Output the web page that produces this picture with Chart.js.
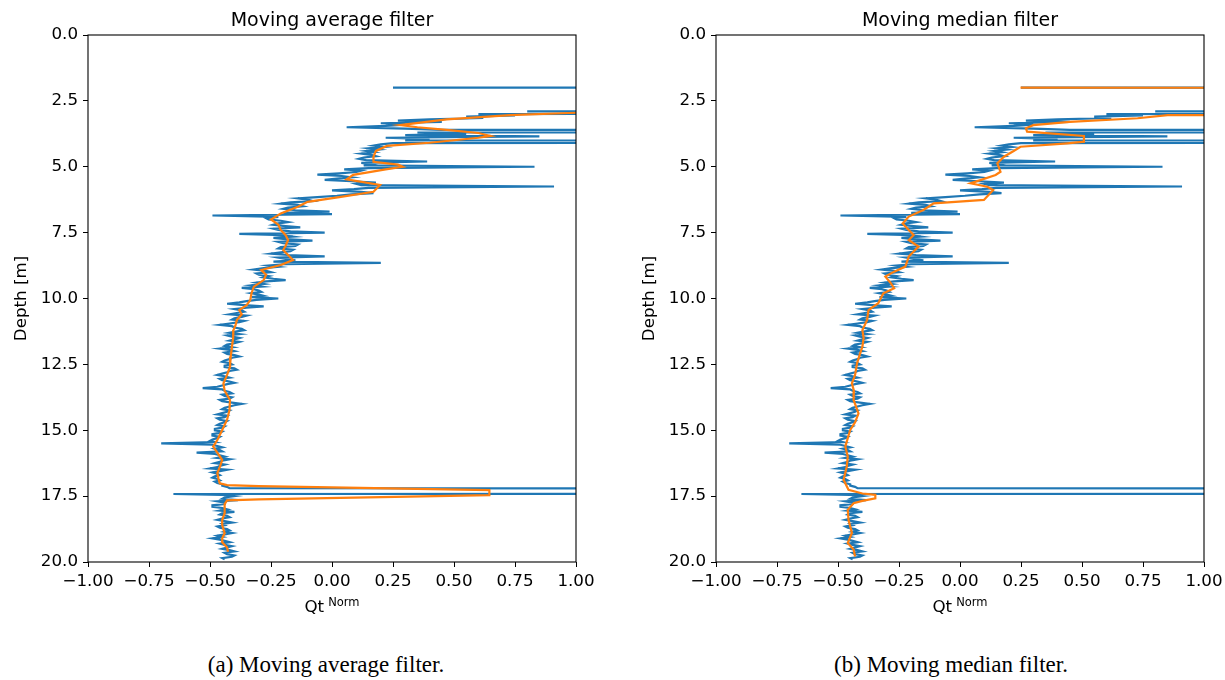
<!DOCTYPE html>
<html>
<head>
<meta charset="utf-8">
<script src="https://cdn.jsdelivr.net/npm/chart.js@4/dist/chart.umd.min.js"></script>
<style>
  html, body { margin: 0; padding: 0; background: #fff; }
  body { width: 1225px; height: 680px; position: relative; overflow: hidden; font-family: 'DejaVu Sans', sans-serif; }
  canvas { position: absolute; top: 0; }
  .ttl { position: absolute; top: 7px; width: 488px; height: 24px; line-height: 24px; text-align: center; font-size: 19px; color: #000; }
  .xl  { position: absolute; top: 596px; width: 488px; height: 20px; line-height: 20px; text-align: center; font-size: 16.7px; color: #000; }
  .xl .sup { font-size: 11.5px; position: relative; top: -6px; margin-left: 4px; }
  .cap { position: absolute; top: 651px; width: 600px; text-align: center; font-family: 'Liberation Serif', serif; font-size: 23px; line-height: 28px; color: #000; }
</style>
</head>
<body>
<canvas id="avgChart" width="612" height="625" style="left:0px"></canvas>
<canvas id="medChart" width="612" height="625" style="left:628px"></canvas>

<div class="ttl" style="left:88px">Moving average filter</div>
<div class="ttl" style="left:716px">Moving median filter</div>
<div class="xl" style="left:88px">Qt<span class="sup">Norm</span></div>
<div class="xl" style="left:716px">Qt<span class="sup">Norm</span></div>
<div class="cap" style="left:26px">(a) Moving average filter.</div>
<div class="cap" style="left:651px">(b) Moving median filter.</div>

<script>
/* ── raw cone signal (same in both panels) ─────────────── */
const rawDepth = [
  2.00, 2.01, 2.88, 2.90, 2.95, 3.00, 3.05, 3.10, 3.15, 3.20,
  3.25, 3.30, 3.35, 3.40, 3.45, 3.50, 3.55, 3.60, 3.65, 3.70,
  3.75, 3.80, 3.85, 3.90, 3.95, 4.00, 4.05, 4.10, 4.15, 4.20,
  4.25, 4.30, 4.35, 4.40, 4.45, 4.50, 4.55, 4.60, 4.65, 4.70,
  4.75, 4.80, 4.85, 4.90, 4.95, 5.00, 5.05, 5.10, 5.15, 5.20,
  5.25, 5.30, 5.35, 5.40, 5.45, 5.50, 5.55, 5.60, 5.65, 5.70,
  5.75, 5.80, 5.85, 5.90, 5.95, 6.00, 6.05, 6.10, 6.15, 6.20,
  6.25, 6.30, 6.35, 6.40, 6.45, 6.50, 6.55, 6.60, 6.65, 6.70,
  6.75, 6.80, 6.85, 6.90, 6.95, 7.00, 7.05, 7.10, 7.15, 7.20,
  7.25, 7.30, 7.35, 7.40, 7.45, 7.50, 7.55, 7.60, 7.65, 7.70,
  7.75, 7.80, 7.85, 7.90, 7.95, 8.00, 8.05, 8.10, 8.15, 8.20,
  8.25, 8.30, 8.35, 8.40, 8.45, 8.50, 8.55, 8.60, 8.65, 8.70,
  8.75, 8.80, 8.85, 8.90, 8.95, 9.00, 9.05, 9.10, 9.15, 9.20,
  9.25, 9.30, 9.35, 9.40, 9.45, 9.50, 9.55, 9.60, 9.65, 9.70,
  9.75, 9.80, 9.85, 9.90, 9.95, 10.00, 10.05, 10.10, 10.15, 10.20,
  10.25, 10.30, 10.35, 10.40, 10.45, 10.50, 10.55, 10.60, 10.65, 10.70,
  10.75, 10.80, 10.85, 10.90, 10.95, 11.00, 11.05, 11.10, 11.15, 11.20,
  11.25, 11.30, 11.35, 11.40, 11.45, 11.50, 11.55, 11.60, 11.65, 11.70,
  11.75, 11.80, 11.85, 11.90, 11.95, 12.00, 12.05, 12.10, 12.15, 12.20,
  12.25, 12.30, 12.35, 12.40, 12.45, 12.50, 12.55, 12.60, 12.65, 12.70,
  12.75, 12.80, 12.85, 12.90, 12.95, 13.00, 13.05, 13.10, 13.15, 13.20,
  13.25, 13.30, 13.35, 13.40, 13.45, 13.50, 13.55, 13.60, 13.65, 13.70,
  13.75, 13.80, 13.85, 13.90, 13.95, 14.00, 14.05, 14.10, 14.15, 14.20,
  14.25, 14.30, 14.35, 14.40, 14.45, 14.50, 14.55, 14.60, 14.65, 14.70,
  14.75, 14.80, 14.85, 14.90, 14.95, 15.00, 15.05, 15.10, 15.15, 15.20,
  15.25, 15.30, 15.35, 15.40, 15.45, 15.50, 15.55, 15.60, 15.65, 15.70,
  15.75, 15.80, 15.85, 15.90, 15.95, 16.00, 16.05, 16.10, 16.15, 16.20,
  16.25, 16.30, 16.35, 16.40, 16.45, 16.50, 16.55, 16.60, 16.65, 16.70,
  16.75, 16.80, 16.85, 16.90, 16.95, 17.00, 17.05, 17.10, 17.15, 17.20,
  17.25, 17.40, 17.42,
  17.45, 17.50, 17.55, 17.60, 17.65, 17.70, 17.75, 17.80, 17.85, 17.90,
  17.95, 18.00, 18.05, 18.10, 18.15, 18.20, 18.25, 18.30, 18.35, 18.40,
  18.45, 18.50, 18.55, 18.60, 18.65, 18.70, 18.75, 18.80, 18.85, 18.90,
  18.95, 19.00, 19.05, 19.10, 19.15, 19.20, 19.25, 19.30, 19.35, 19.40,
  19.45, 19.50, 19.55, 19.60, 19.65, 19.70, 19.75, 19.80, 19.85, 19.90
];
const rawQt = [
  0.25, 10, 10, 0.80, 10, 0.60, 0.75, 0.55, 0.62, 0.40,
  0.27, 0.45, 0.20, 0.30, 0.22, 0.06, 0.30, 0.45, 10, 0.35,
  0.55, 0.30, 0.85, 0.22, 0.40, 0.30, 10, 0.25, 0.20, 0.17,
  0.21, 0.15, 0.19, 0.14, 0.17, 0.12, 0.16, 0.18, 0.13, 0.11,
  0.14, 0.39, 0.12, 0.16, 0.13, 0.83, 0.15, 0.05, 0.12, 0.10,
  0.03, -0.06, 0.04, 0.08, 0.02, -0.03, 0.08, 0.18, 0.10, 0.12,
  0.91, 0.15, 0.09, 0.00, 0.12, 0.17, 0.08, 0.02, -0.06, -0.14,
  -0.10, -0.08, -0.17, -0.21, -0.14, -0.12, -0.18, -0.20, -0.15, -0.01,
  -0.20, 0.00, -0.49, -0.22, -0.27, -0.26, -0.21, -0.18, -0.22, -0.24,
  -0.19, -0.13, -0.24, -0.22, -0.17, -0.03, -0.38, -0.20, -0.16, -0.24,
  -0.19, -0.08, -0.22, -0.20, -0.14, -0.15, -0.21, -0.22, -0.16, -0.17,
  -0.21, -0.25, -0.18, -0.03, -0.22, -0.19, -0.15, -0.24, 0.20, -0.20,
  -0.26, -0.22, -0.28, -0.32, -0.27, -0.25, -0.31, -0.30, -0.26, -0.28,
  -0.24, -0.19, -0.27, -0.31, -0.28, -0.33, -0.29, -0.37, -0.32, -0.30,
  -0.29, -0.33, -0.30, -0.28, -0.33, -0.22, -0.31, -0.35, -0.38, -0.43,
  -0.36, -0.28, -0.35, -0.40, -0.37, -0.36, -0.39, -0.42, -0.35, -0.37,
  -0.40, -0.41, -0.36, -0.38, -0.42, -0.46, -0.41, -0.40, -0.37, -0.36,
  -0.39, -0.42, -0.38, -0.43, -0.41, -0.38, -0.40, -0.42, -0.38, -0.40,
  -0.43, -0.44, -0.41, -0.46, -0.42, -0.40, -0.44, -0.43, -0.40, -0.38,
  -0.41, -0.42, -0.44, -0.45, -0.42, -0.41, -0.44, -0.44, -0.40, -0.39,
  -0.42, -0.43, -0.45, -0.47, -0.44, -0.42, -0.46, -0.45, -0.42, -0.40,
  -0.43, -0.45, -0.47, -0.53, -0.45, -0.44, -0.42, -0.41, -0.45, -0.44,
  -0.41, -0.42, -0.46, -0.45, -0.41, -0.37, -0.40, -0.42, -0.44, -0.45,
  -0.42, -0.43, -0.45, -0.47, -0.43, -0.44, -0.47, -0.46, -0.43, -0.44,
  -0.46, -0.47, -0.44, -0.45, -0.48, -0.48, -0.45, -0.46, -0.49, -0.49,
  -0.46, -0.47, -0.49, -0.50, -0.48, -0.70, -0.49, -0.47, -0.45, -0.48,
  -0.46, -0.45, -0.555, -0.48, -0.46, -0.44, -0.47, -0.42, -0.45, -0.46,
  -0.48, -0.44, -0.46, -0.47, -0.50, -0.43, -0.46, -0.49, -0.47, -0.46,
  -0.48, -0.49, -0.47, -0.46, -0.48, -0.47, -0.45, -0.45, -0.43, -0.42,
  10, 10, -0.65,
  -0.45, -0.40, -0.44, -0.45, -0.385, -0.47, -0.44, -0.44, -0.49, -0.49,
  -0.45, -0.43, -0.46, -0.40, -0.45, -0.46, -0.43, -0.42, -0.45, -0.47,
  -0.44, -0.41, -0.45, -0.44, -0.47, -0.46, -0.43, -0.42, -0.44, -0.41,
  -0.44, -0.47, -0.45, -0.49, -0.46, -0.44, -0.42, -0.46, -0.44, -0.41,
  -0.43, -0.45, -0.42, -0.40, -0.44, -0.43, -0.40, -0.41, -0.45, -0.44
];

/* ── moving average ────────────────────────────────────── */
const avgDepth = [
  2.85, 2.93, 2.95, 3.04, 3.20, 3.42, 3.50, 3.60, 3.72, 3.83,
  3.90, 4.09, 4.21, 4.40, 4.62, 4.81, 4.92, 5.00, 5.10, 5.31,
  5.48, 5.69, 5.95, 6.15, 6.33, 6.52, 6.77, 7.00, 7.20, 7.40,
  7.60, 7.78, 8.00, 8.16, 8.35, 8.54, 8.73, 8.92, 9.10, 9.30,
  9.55, 9.80, 10.06, 10.25, 10.44, 10.60, 10.82, 11.00, 11.20, 11.50,
  11.83, 12.20, 12.59, 12.90, 13.22, 13.50, 13.85, 14.23, 14.60, 14.99,
  15.37, 15.62, 15.85, 16.13, 16.40, 16.63, 16.85, 17.01, 17.08, 17.12,
  17.27, 17.46, 17.62, 17.66, 17.80, 18.00, 18.15, 18.40, 18.60, 18.91,
  19.10, 19.25, 19.45, 19.61
];
const avgQt = [
  3.0, 1.2, 1.0, 0.73, 0.47, 0.28, 0.35, 0.47, 0.60, 0.65,
  0.60, 0.40, 0.225, 0.18, 0.17, 0.17, 0.27, 0.29, 0.22, 0.087,
  0.06, 0.197, 0.17, 0.03, -0.10, -0.14, -0.21, -0.25, -0.22, -0.21,
  -0.19, -0.18, -0.19, -0.20, -0.18, -0.16, -0.21, -0.29, -0.27, -0.28,
  -0.32, -0.33, -0.335, -0.35, -0.38, -0.37, -0.39, -0.395, -0.404, -0.405,
  -0.41, -0.415, -0.418, -0.43, -0.445, -0.44, -0.418, -0.42, -0.43, -0.45,
  -0.47, -0.487, -0.47, -0.45, -0.46, -0.47, -0.465, -0.46, -0.43, -0.30,
  0.645, 0.645, -0.30, -0.43, -0.44, -0.44, -0.44, -0.45, -0.45, -0.44,
  -0.45, -0.45, -0.43, -0.426
];

/* ── moving median ─────────────────────────────────────── */
const medDepth = [
  2.00, 2.01, 3.02, 3.04, 3.16, 3.30, 3.42, 3.54, 3.67, 3.83,
  4.05, 4.11, 4.24, 4.40, 4.62, 4.87, 5.19, 5.31, 5.63, 5.76,
  5.88, 6.26, 6.39, 6.64, 6.89, 7.15, 7.40, 7.59, 7.78, 8.03,
  8.41, 8.79, 8.98, 9.17, 9.40, 9.61, 9.80, 10.18, 10.44, 10.82,
  11.20, 11.50, 11.83, 12.10, 12.46, 12.90, 13.22, 13.50, 13.85, 14.36,
  14.70, 14.99, 15.30, 15.62, 16.00, 16.38, 16.88, 17.26, 17.40, 17.45,
  17.58, 17.68, 17.77, 18.02, 18.40, 18.90, 19.28, 19.53, 19.79
];
const medQt = [
  0.248, 5, 5, 0.851, 0.728, 0.45, 0.30, 0.27, 0.275, 0.508,
  0.508, 0.44, 0.248, 0.22, 0.18, 0.153, 0.166, 0.146, 0.043, 0.112,
  0.136, 0.098, -0.108, -0.15, -0.21, -0.235, -0.21, -0.19, -0.21, -0.17,
  -0.21, -0.224, -0.27, -0.306, -0.285, -0.27, -0.314, -0.335, -0.375, -0.381,
  -0.40, -0.395, -0.40, -0.41, -0.422, -0.43, -0.443, -0.435, -0.436, -0.416,
  -0.43, -0.45, -0.46, -0.47, -0.46, -0.464, -0.477, -0.457, -0.40, -0.347,
  -0.347, -0.40, -0.436, -0.46, -0.457, -0.443, -0.46, -0.436, -0.43
];

/* ── axis ticks ────────────────────────────────────────── */
const qtTicks = [-1.00, -0.75, -0.50, -0.25, 0.00, 0.25, 0.50, 0.75, 1.00];
const depthTicks = [0.0, 2.5, 5.0, 7.5, 10.0, 12.5, 15.0, 17.5, 20.0];

const BLUE = '#1f77b4';
const ORANGE = '#ff7f0e';
const TICK_FONT = { family: "'DejaVu Sans', sans-serif", size: 16.7 };

function pairs(depths, values) {
  return depths.map((d, i) => ({ x: values[i], y: d }));
}

// matplotlib style box around the axes
const frame = {
  id: 'frame',
  afterDatasetsDraw(chart) {
    const { ctx, chartArea: a } = chart;
    ctx.save();
    ctx.strokeStyle = '#000';
    ctx.lineWidth = 1.1;
    ctx.strokeRect(a.left, a.top, a.right - a.left, a.bottom - a.top);
    ctx.restore();
  }
};

function profileChart(canvasId, depths, values) {
  const ctx = document.getElementById(canvasId).getContext('2d');
  return new Chart(ctx, {
    type: 'scatter',
    data: {
      datasets: [
        // raw signal underneath (higher order = drawn first)
        { data: pairs(rawDepth, rawQt), showLine: true, borderColor: BLUE, borderWidth: 2.2,
          pointRadius: 0, tension: 0, clip: 0, order: 2 },
        { data: pairs(depths, values), showLine: true, borderColor: ORANGE, borderWidth: 2.2,
          pointRadius: 0, tension: 0, clip: 0, order: 1 }
      ]
    },
    options: {
      responsive: false,
      animation: false,
      devicePixelRatio: 1,
      layout: { padding: { top: 35, right: 36, left: 0, bottom: 0 } },
      plugins: { legend: { display: false }, tooltip: { enabled: false } },
      events: [],
      scales: {
        x: {
          type: 'linear', min: -1, max: 1,
          afterFit: s => { s.height = 63; },
          afterBuildTicks: s => { s.ticks = qtTicks.map(v => ({ value: v })); },
          grid: { drawOnChartArea: false, drawTicks: true, tickLength: 5, color: '#000', lineWidth: 1 },
          border: { display: false },
          ticks: { color: '#000', font: TICK_FONT, padding: 5, maxRotation: 0, autoSkip: false,
                   callback: v => (v < 0 ? '\u2212' : '') + Math.abs(v).toFixed(2) }
        },
        y: {
          type: 'linear', min: 0, max: 20, reverse: true,
          afterFit: s => { s.width = 88; },
          afterBuildTicks: s => { s.ticks = depthTicks.map(v => ({ value: v })); },
          grid: { drawOnChartArea: false, drawTicks: true, tickLength: 5, color: '#000', lineWidth: 1 },
          border: { display: false },
          ticks: { color: '#000', font: TICK_FONT, padding: 5, autoSkip: false,
                   callback: v => v.toFixed(1) },
          title: { display: true, text: 'Depth [m]', color: '#000', font: TICK_FONT,
                   padding: { top: 12, bottom: 0 } }
        }
      }
    },
    plugins: [frame]
  });
}

profileChart('avgChart', avgDepth, avgQt);
profileChart('medChart', medDepth, medQt);
</script>
</body>
</html>
